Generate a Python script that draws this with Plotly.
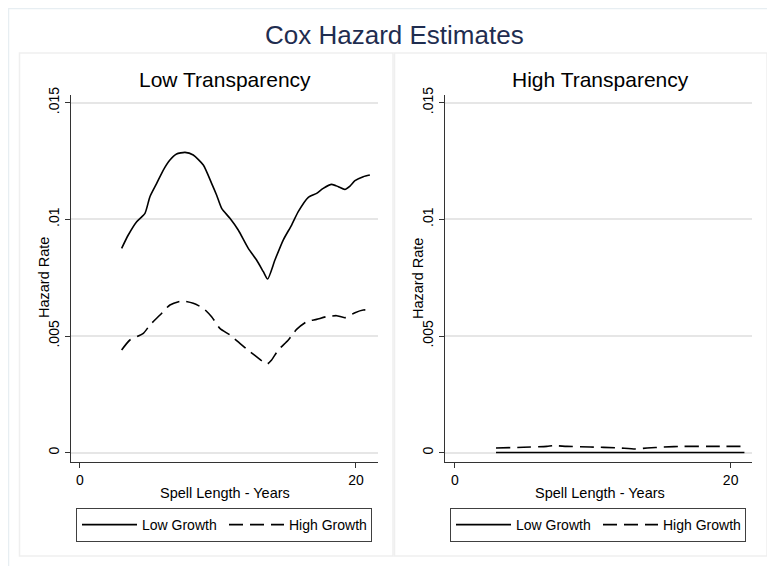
import plotly.graph_objects as go

# page offset of the plot div (body margin) and figure size
OFF = 8
W, H = 775 - OFF, 566 - OFF

# ---------------- data ----------------
low_x = [3.02, 3.50, 4.11, 4.71, 5.07, 5.56, 6.04, 6.52, 7.00, 7.61, 8.21, 8.94, 9.54, 9.90,
         10.27, 10.87, 11.47, 12.20, 12.80, 13.29, 13.60, 14.13, 14.73, 15.34, 15.82, 16.55,
         17.15, 17.63, 18.24, 18.72, 19.20, 19.57, 19.93, 20.53, 21.01]
low_lowgrowth = [0.008757, 0.009329, 0.009900, 0.010257, 0.010971, 0.011543, 0.012114, 0.012543,
                 0.012800, 0.012871, 0.012757, 0.012329, 0.011543, 0.011043, 0.010471, 0.010043,
                 0.009543, 0.008757, 0.008257, 0.007757, 0.007443, 0.008257, 0.009114, 0.009757,
                 0.010329, 0.010943, 0.011114, 0.011329, 0.011500, 0.011400, 0.011286, 0.011429,
                 0.011657, 0.011829, 0.011900]

low_x2 = [3.02, 3.62, 4.59, 5.07, 5.80, 6.52, 7.37, 8.21, 8.94, 9.54, 10.14, 10.87, 11.59, 12.32,
          13.04, 13.53, 13.89, 14.37, 15.10, 15.70, 16.43, 17.15, 17.87, 18.60, 19.20, 19.93,
          20.53, 21.01]
low_highgrowth = [0.004400, 0.004829, 0.005114, 0.005471, 0.005900, 0.006329, 0.006500, 0.006400,
                  0.006186, 0.005829, 0.005329, 0.005043, 0.004686, 0.004329, 0.004000, 0.003786,
                  0.003971, 0.004400, 0.004829, 0.005286, 0.005614, 0.005714, 0.005829, 0.005871,
                  0.005786, 0.006000, 0.006114, 0.006114]

high_x = [2.98, 8.0, 14.0, 21.0]
high_lowgrowth = [0.00001, 0.00001, 0.00001, 0.00001]

high_x2 = [2.98, 4.97, 6.67, 7.15, 8.12, 9.82, 11.76, 13.09, 13.94, 15.15, 16.60, 18.30, 21.0]
high_highgrowth = [0.00020, 0.00023, 0.00027, 0.00030, 0.00027, 0.00024, 0.00021, 0.00016,
                   0.00020, 0.00024, 0.00027, 0.00027, 0.00027]

y_ticks = [0, 0.005, 0.01, 0.015]
y_tick_labels = ["0", ".005", ".01", ".015"]
x_ticks = [0, 20]
x_tick_labels = ["0", "20"]

title = "Cox Hazard Estimates"
panel_titles = ["Low Transparency", "High Transparency"]
series_names = ["Low Growth", "High Growth"]

# ---------------- helpers (window pixel -> paper) ----------------
def px(x):
    return (x - OFF) / W


def py(y):
    return 1 - (y - OFF) / H


FONT = "Liberation Sans, Arial, sans-serif"
DASH = "14px,7px"

fig = go.Figure()

panels = [
    dict(xa="x", ya="y", legend="legend",
         xs=(low_x, low_x2), ys=(low_lowgrowth, low_highgrowth)),
    dict(xa="x2", ya="y2", legend="legend2",
         xs=(high_x, high_x2), ys=(high_lowgrowth, high_highgrowth)),
]
for p in panels:
    for i, (xx, yy) in enumerate(zip(p["xs"], p["ys"])):
        fig.add_trace(go.Scatter(
            x=xx, y=yy, mode="lines", name=series_names[i],
            xaxis=p["xa"], yaxis=p["ya"], legend=p["legend"],
            line=dict(color="black", width=1.6, dash="solid" if i == 0 else DASH,
                      shape="spline", smoothing=0.6),
            hoverinfo="skip",
        ))

axis_common = dict(showline=True, linecolor="#333333", linewidth=1, ticks="outside",
                   ticklen=5, tickcolor="#333333", zeroline=False,
                   tickfont=dict(family=FONT, size=14, color="black"))

# plot area boxes in window pixels
left_box = (71, 378)
right_box = (445, 752)
top_y, bot_y = 95, 462

legend_common = dict(orientation="h", xanchor="left", yanchor="top",
                     bordercolor="#404040", borderwidth=1, bgcolor="white",
                     font=dict(family=FONT, size=14, color="black"),
                     itemwidth=55, entrywidth=77, entrywidthmode="pixels",
                     itemclick=False, itemdoubleclick=False)

fig.update_layout(
    width=W, height=H,
    margin=dict(l=0, r=0, t=0, b=0, autoexpand=False),
    paper_bgcolor="white", plot_bgcolor="white",
    font=dict(family=FONT, color="black"),
    xaxis=dict(domain=[px(left_box[0]), px(left_box[1])], range=[-0.65, 21.6],
               tickvals=x_ticks, ticktext=x_tick_labels, showgrid=False, anchor="y",
               **axis_common),
    yaxis=dict(domain=[py(bot_y), py(top_y)], range=[-0.0004, 0.01533],
               tickvals=y_ticks, ticktext=y_tick_labels, tickangle=-90,
               showgrid=True, gridcolor="#e6e6e6", gridwidth=1.5, anchor="x",
               **axis_common),
    xaxis2=dict(domain=[px(right_box[0]), px(right_box[1])], range=[-0.72, 21.55],
                tickvals=x_ticks, ticktext=x_tick_labels, showgrid=False, anchor="y2",
                **axis_common),
    yaxis2=dict(domain=[py(bot_y), py(top_y)], range=[-0.0004, 0.01533],
                tickvals=y_ticks, ticktext=y_tick_labels, tickangle=-90,
                showgrid=True, gridcolor="#e6e6e6", gridwidth=1.5, anchor="x2",
                **axis_common),
    legend=dict(x=px(76), y=py(508), **legend_common),
    legend2=dict(x=px(450), y=py(508), **legend_common),
    showlegend=True,
)

shapes = [
    # outer frame
    dict(type="rect", xref="paper", yref="paper", x0=px(8.5), x1=px(800), y0=py(600), y1=py(8.5),
         line=dict(color="#e7eef2", width=1.5), layer="below"),
    # panel frames
    dict(type="rect", xref="paper", yref="paper", x0=px(19.5), x1=px(393), y0=py(556), y1=py(53),
         line=dict(color="#efefef", width=1.5), layer="below"),
    dict(type="rect", xref="paper", yref="paper", x0=px(394.5), x1=px(767), y0=py(556), y1=py(53),
         line=dict(color="#efefef", width=1.5), layer="below"),
]
fig.update_layout(shapes=shapes)

ann = []
ann.append(dict(text=title, x=px(395), y=py(35), xref="paper", yref="paper",
                showarrow=False, font=dict(family=FONT, size=26, color="#1f2d50"),
                xanchor="center", yanchor="middle"))
for cx, t in zip([225, 600], panel_titles):
    ann.append(dict(text=t, x=px(cx), y=py(79), xref="paper", yref="paper",
                    showarrow=False, font=dict(family=FONT, size=21, color="black"),
                    xanchor="center", yanchor="middle"))
for cx in [225, 600]:
    ann.append(dict(text="Spell Length - Years", x=px(cx), y=py(493), xref="paper",
                    yref="paper", showarrow=False,
                    font=dict(family=FONT, size=14.5, color="black"),
                    xanchor="center", yanchor="middle"))
for cx in [44, 418]:
    ann.append(dict(text="Hazard Rate", x=px(cx), y=py(278), xref="paper", yref="paper",
                    showarrow=False, textangle=-90,
                    font=dict(family=FONT, size=14.5, color="black"),
                    xanchor="center", yanchor="middle"))
fig.update_layout(annotations=ann)

fig.write_html("out.html")
